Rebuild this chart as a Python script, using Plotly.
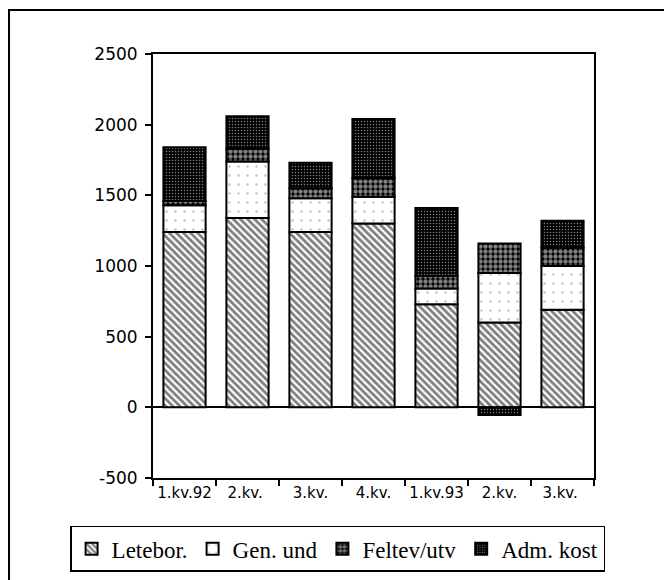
import plotly.graph_objects as go

categories = ["1.kv.92", "2.kv. ", "3.kv.", "4.kv.", "1.kv.93", "2.kv.", "3.kv. "]
letebor = [1240, 1340, 1240, 1300, 730, 600, 690]
gen_und = [190, 400, 240, 190, 110, 350, 310]
feltev = [30, 90, 70, 130, 90, 210, 130]
adm_kost = [380, 230, 180, 420, 480, -55, 190]

series_names = ["Letebor.", "Gen. und", "Feltev/utv", "Adm. kost"]
y_ticks = [-500, 0, 500, 1000, 1500, 2000, 2500]
y_tick_labels = ["-500", "0", "500", "1000", "1500", "2000", "2500"]

patterns = [
    dict(shape="\\", fgcolor="black", bgcolor="white", size=5, solidity=0.55),
    dict(shape=".", fgcolor="#888888", bgcolor="white", size=9, solidity=0.06),
    dict(shape=".", fgcolor="white", bgcolor="black", size=5, solidity=0.6),
    dict(shape=".", fgcolor="white", bgcolor="black", size=3, solidity=0.2),
]

fig = go.Figure()
for name, vals, pat in zip(series_names, [letebor, gen_und, feltev, adm_kost], patterns):
    fig.add_trace(go.Bar(
        x=categories, y=vals, name=name,
        marker=dict(color="white", pattern=pat, line=dict(color="black", width=2)),
    ))

fig.update_layout(
    width=664, height=572,
    barmode="relative", bargap=0.33,
    paper_bgcolor="white", plot_bgcolor="white",
    margin=dict(l=145, r=78, t=46, b=102, autoexpand=False),
    font=dict(family="DejaVu Sans", size=17, color="black"),
    showlegend=True,
    legend=dict(
        orientation="h", x=-0.188, xanchor="left",
        y=-0.113, yanchor="top",
        font=dict(family="Liberation Serif", size=23, color="black"),
        bordercolor="black", borderwidth=1.5, bgcolor="white",
        traceorder="normal", itemwidth=30, tracegroupgap=0,
    ),
    shapes=[dict(
        type="rect", xref="paper", yref="paper",
        x0=-0.3265, x1=1.5, y0=-0.5, y1=1.1038,
        line=dict(color="black", width=2), fillcolor="rgba(0,0,0,0)",
        layer="below",
    )],
)

fig.update_xaxes(
    type="category", showline=True, linecolor="black", linewidth=2, mirror=True,
    ticks="outside", tickson="boundaries", ticklen=6, tickwidth=2, tickcolor="black",
    showgrid=False, tickangle=0, automargin=False,
    tickfont=dict(family="DejaVu Sans", size=15),
)
fig.update_yaxes(
    range=[-500, 2500], tickvals=y_ticks, ticktext=y_tick_labels,
    showline=True, linecolor="black", linewidth=2, automargin=False,
    mirror=True, ticks="outside", ticklen=6, tickwidth=2, tickcolor="black",
    showgrid=False, zeroline=True, zerolinecolor="black", zerolinewidth=2,
    ticklabelstandoff=4,
    tickfont=dict(family="DejaVu Sans", size=17),
)

fig.write_html("out.html")
